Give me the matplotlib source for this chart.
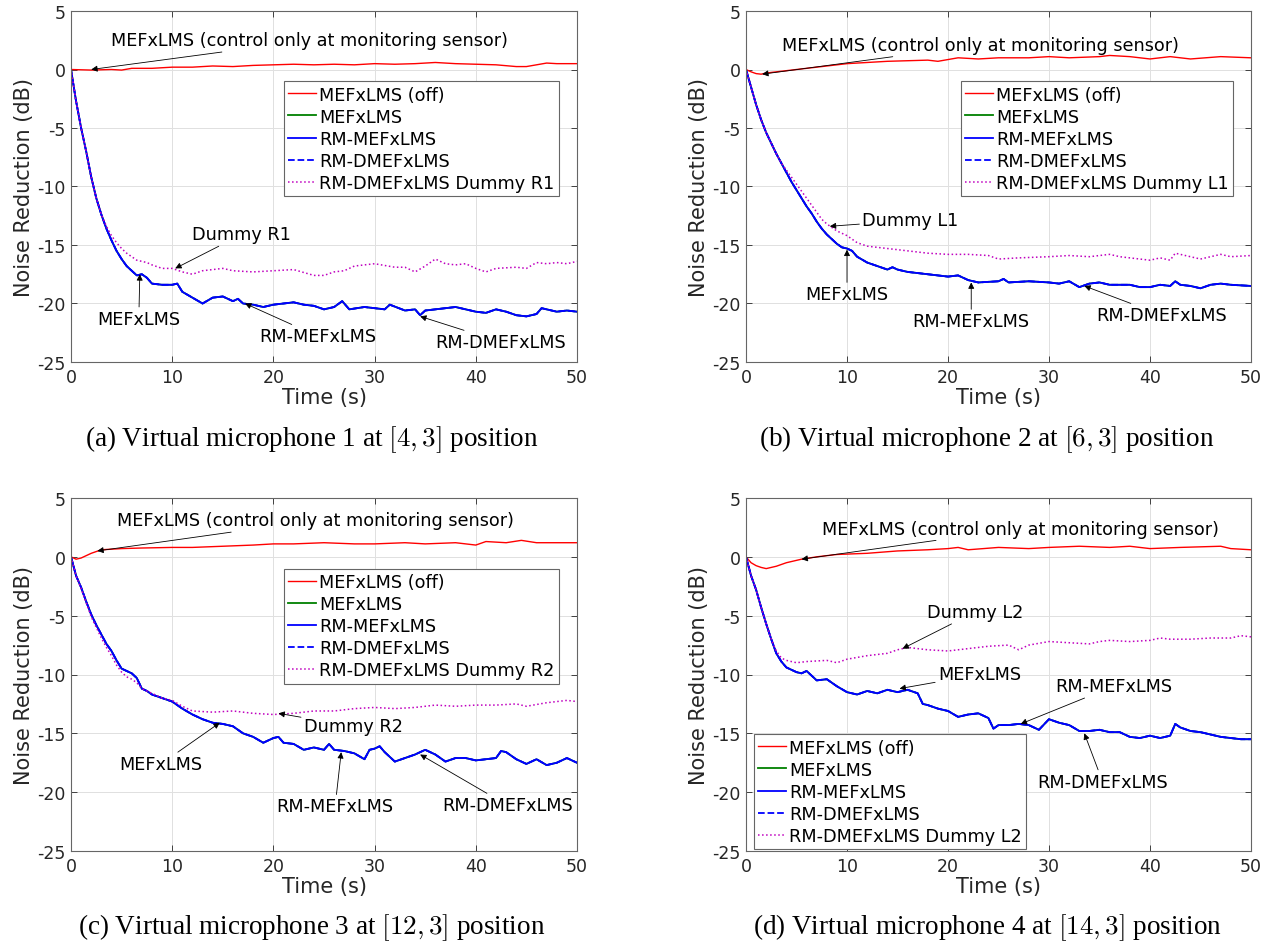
import matplotlib
matplotlib.use('Agg')
import matplotlib.pyplot as plt

plt.rcParams['font.family'] = 'DejaVu Sans'
plt.rcParams['axes.unicode_minus'] = False
plt.rcParams['mathtext.fontset'] = 'cm'

# ---- panel (a): virtual mic 1 ----
a_off_t = [0, 2, 4, 5, 6, 8, 10, 12, 14, 16, 18, 20, 22, 24, 26, 28, 30, 32, 34, 36, 38, 40, 42, 44, 45, 46, 47, 48, 50]
a_off_y = [0, -0.05, 0, -0.05, 0.1, 0.1, 0.2, 0.2, 0.3, 0.25, 0.35, 0.4, 0.45, 0.4, 0.45, 0.4, 0.5, 0.45, 0.5, 0.6,
           0.5, 0.45, 0.4, 0.25, 0.25, 0.4, 0.55, 0.5, 0.5]
a_rm_t = [0, 0.5, 1, 1.5, 2, 2.5, 3, 3.5, 4, 4.5, 5, 5.5, 6, 6.5, 7, 7.5, 8, 9, 10, 10.5,
          11, 12, 13, 14, 15, 16, 16.5, 17, 18, 19, 20, 22, 23, 24, 25, 26, 26.8, 27.5, 29, 30,
          31, 31.5, 33, 34, 34.5, 35, 37, 38, 40, 41, 42, 43, 44, 45, 46, 46.5, 48, 49, 50]
a_rm_y = [0, -2.7, -5, -7, -9.2, -11, -12.4, -13.6, -14.6, -15.5, -16.2, -16.8, -17.2, -17.6, -17.5, -17.8, -18.3, -18.4, -18.4, -18.3,
          -19, -19.5, -20, -19.5, -19.4, -19.8, -19.6, -20, -20.1, -20.3, -20.1, -19.9, -20.1, -20.2, -20.5, -20.3, -19.8, -20.5, -20.3, -20.4,
          -20.5, -20.1, -20.6, -20.5, -21, -20.6, -20.4, -20.3, -20.7, -20.8, -20.5, -20.7, -21, -21.1, -20.9, -20.4, -20.7, -20.6, -20.7]
a_dum_t = [0, 0.5, 1, 1.5, 2, 2.5, 3, 3.5, 4, 4.5, 5, 5.5, 6, 6.5, 7, 7.5, 8, 9, 10, 11,
           12, 13, 15, 16, 18, 20, 22, 24, 25, 26, 27, 28, 29, 30, 32, 33, 34, 35, 36, 37,
           38, 39, 40, 41, 42, 44, 45, 46, 47, 48, 49, 50]
a_dum_y = [0, -2.7, -5, -7, -9.2, -11, -12.4, -13.4, -14.2, -14.8, -15.3, -15.7, -16.0, -16.3, -16.4, -16.5, -16.7, -17.0, -17.0, -17.3,
           -17.5, -17.2, -17.0, -17.2, -17.3, -17.2, -17.1, -17.6, -17.6, -17.3, -17.2, -16.8, -16.7, -16.6, -16.9, -16.9, -17.3, -16.8, -16.2, -16.6,
           -16.7, -16.6, -17.0, -17.3, -17.0, -16.9, -17.0, -16.5, -16.6, -16.5, -16.6, -16.4]

# ---- panel (b): virtual mic 2 ----
b_off_t = [0, 0.5, 1, 1.5, 2, 3, 4, 5, 6, 8, 10, 12, 14, 16, 18, 19, 21, 23, 25, 28, 30, 32, 35, 36, 38, 40, 42, 44, 47, 50]
b_off_y = [0, -0.2, -0.35, -0.4, -0.3, -0.2, -0.1, 0, 0.1, 0.3, 0.5, 0.6, 0.7, 0.75, 0.8, 0.7, 1.0, 0.9, 1.0, 1.0,
           1.1, 1.0, 1.1, 1.2, 1.1, 0.9, 1.1, 0.9, 1.1, 1.0]
b_rm_t = [0, 0.5, 1, 1.5, 2, 2.5, 3, 3.5, 4, 4.5, 5, 5.5, 6, 6.5, 7, 7.5, 8, 8.5, 9, 9.5,
          10, 10.5, 11, 12, 13, 14, 14.5, 15, 16, 18, 20, 21, 22, 23, 25, 25.5, 26, 28, 30, 31,
          32, 33, 34, 35, 36, 38, 39, 40, 41, 42, 42.5, 43, 44, 45, 46, 47, 48, 50]
b_rm_y = [0, -1.5, -3, -4.3, -5.4, -6.3, -7.2, -8, -8.8, -9.6, -10.3, -11, -11.7, -12.3, -13.0, -13.6, -14.1, -14.5, -14.9, -15.2,
          -15.3, -15.5, -16, -16.5, -16.8, -17.1, -16.9, -17.1, -17.3, -17.5, -17.7, -17.6, -18, -18.2, -18.1, -17.9, -18.2, -18.1, -18.2, -18.3,
          -18.1, -18.6, -18.3, -18.2, -18.4, -18.4, -18.6, -18.6, -18.4, -18.5, -18.1, -18.4, -18.5, -18.7, -18.4, -18.3, -18.4, -18.5]
b_dum_t = [0, 0.5, 1, 1.5, 2, 2.5, 3, 3.5, 4, 4.5, 5, 5.5, 6, 6.5, 7, 7.5, 8, 8.5, 9, 9.5,
           10, 11, 12, 13, 14, 16, 18, 20, 22, 24, 25, 27, 30, 32, 34, 36, 37, 38, 40, 41,
           42, 42.5, 44, 45, 47, 48, 50]
b_dum_y = [0, -1.5, -3, -4.3, -5.4, -6.3, -7.2, -8, -8.6, -9.2, -9.8, -10.4, -11.0, -11.6, -12.2, -12.8, -13.2, -13.5, -13.8, -14.0,
           -14.2, -14.8, -15.1, -15.2, -15.3, -15.5, -15.7, -15.8, -15.8, -15.9, -16.2, -16.1, -16.0, -15.9, -16.0, -15.8, -16.0, -16.1, -16.3, -16.1,
           -16.3, -15.7, -16.0, -16.2, -15.8, -16.0, -15.9]

# ---- panel (c): virtual mic 3 ----
c_off_t = [0, 0.5, 1, 2, 3, 4, 5, 7, 10, 12, 15, 18, 20, 22, 25, 28, 30, 33, 35, 38, 40, 41, 43, 44.5, 46, 48, 50]
c_off_y = [0, -0.2, -0.1, 0.3, 0.6, 0.65, 0.7, 0.75, 0.8, 0.8, 0.9, 1.0, 1.1, 1.1, 1.2, 1.1, 1.1, 1.2, 1.1, 1.2,
           1.0, 1.3, 1.2, 1.4, 1.2, 1.2, 1.2]
c_rm_t = [0, 0.5, 1, 1.5, 2, 2.5, 3, 3.5, 4, 4.5, 5, 5.5, 6, 6.5, 7, 7.5, 8, 9, 10, 11,
          12, 13, 14, 15, 16, 17, 18, 19, 20, 20.5, 21, 22, 23, 24, 25, 25.5, 26, 27, 28, 29,
          29.5, 30, 30.5, 31, 32, 33, 34, 35, 36, 37, 38, 39, 40, 41, 42, 42.5, 43, 44, 45, 46,
          47, 48, 49, 50]
c_rm_y = [0, -1.6, -2.6, -3.8, -4.9, -5.8, -6.6, -7.4, -8.0, -8.8, -9.5, -9.7, -9.9, -10.3, -11.2, -11.4, -11.7, -12.0, -12.3, -12.9,
          -13.4, -13.8, -14.1, -14.2, -14.4, -15.0, -15.3, -15.8, -15.4, -15.3, -15.8, -15.9, -16.4, -16.2, -16.4, -15.9, -16.4, -16.5, -16.7, -17.2,
          -16.4, -16.3, -16.1, -16.6, -17.4, -17.1, -16.8, -16.4, -16.8, -17.4, -17.1, -17.1, -17.3, -17.2, -17.1, -16.5, -16.6, -17.2, -17.6, -17.2,
          -17.7, -17.5, -17.1, -17.5]
c_dum_t = [0, 0.5, 1, 1.5, 2, 2.5, 3, 3.5, 4, 4.5, 5, 5.5, 6, 6.5, 7, 7.5, 8, 9, 10, 11,
           12, 14, 16, 18, 20, 22, 24, 26, 28, 30, 32, 34, 36, 38, 40, 42, 44, 45, 47, 49, 50]
c_dum_y = [0, -1.6, -2.7, -3.9, -5.1, -6.0, -6.9, -7.7, -8.4, -9.2, -9.8, -10.2, -10.4, -10.7, -11.2, -11.4, -11.6, -12.0, -12.2, -12.7,
           -13.1, -13.2, -13.1, -13.3, -13.4, -13.3, -13.1, -13.1, -12.9, -12.8, -12.9, -12.8, -12.6, -12.7, -12.6, -12.6, -12.5, -12.7, -12.4, -12.2,
           -12.3]

# ---- panel (d): virtual mic 4 ----
d_off_t = [0, 0.5, 1, 1.5, 2, 3, 4, 5.5, 7, 9, 12, 15, 18, 20, 21, 22, 25, 28, 30, 33, 36, 38, 40, 43, 47, 48, 50]
d_off_y = [0, -0.5, -0.75, -0.9, -1.0, -0.8, -0.5, -0.2, 0, 0.2, 0.3, 0.5, 0.6, 0.7, 0.8, 0.6, 0.8, 0.7, 0.8, 0.9,
           0.8, 0.9, 0.7, 0.8, 0.9, 0.7, 0.6]
d_rm_t = [0, 0.5, 1, 1.5, 2, 2.5, 3, 3.5, 4, 5, 5.5, 6, 7, 8, 9, 10, 11, 12, 13, 14,
          15, 16, 17, 17.5, 18, 19, 20, 21, 22, 23, 24, 24.5, 25, 26, 27, 28, 29, 30, 31, 32,
          33, 34, 35, 36, 37, 38, 39, 40, 41, 42, 42.5, 43, 44, 45, 46, 47, 48, 49, 50]
d_rm_y = [0, -1.6, -2.8, -4.3, -5.7, -7.0, -8.2, -8.9, -9.4, -9.8, -9.9, -9.7, -10.5, -10.4, -11.0, -11.5, -11.7, -11.4, -11.6, -11.3,
          -11.5, -11.3, -11.6, -12.5, -12.6, -12.9, -13.1, -13.6, -13.4, -13.3, -13.7, -14.6, -14.3, -14.3, -14.2, -14.3, -14.7, -13.8, -14.1, -14.3,
          -14.8, -14.8, -14.7, -14.9, -14.9, -15.3, -15.4, -15.2, -15.4, -15.2, -14.2, -14.5, -14.8, -14.9, -15.1, -15.3, -15.4, -15.5, -15.5]
d_dum_t = [0, 0.5, 1, 1.5, 2, 2.5, 3, 3.5, 4, 5, 6, 8, 9, 10, 12, 14, 15, 16, 18, 20,
           22, 24, 26, 27, 28, 30, 32, 34, 35, 36, 38, 40, 41, 42, 44, 46, 48, 49, 50]
d_dum_y = [0, -1.6, -2.8, -4.3, -5.7, -7.0, -8.0, -8.6, -8.8, -9.0, -8.9, -8.8, -9.0, -8.7, -8.4, -8.2, -7.9, -7.7, -7.9, -8.0,
           -7.8, -7.6, -7.5, -7.9, -7.5, -7.2, -7.3, -7.4, -7.2, -7.1, -7.2, -7.1, -6.9, -7.0, -7.0, -6.9, -6.9, -6.7, -6.8]

dummy_names = ['R1', 'L1', 'R2', 'L2']
captions = ['(a) Virtual microphone 1 at $[4,3]$ position',
            '(b) Virtual microphone 2 at $[6,3]$ position',
            '(c) Virtual microphone 3 at $[12,3]$ position',
            '(d) Virtual microphone 4 at $[14,3]$ position']

W, H = 1263, 945


def fig_rect(x0, x1, ytop, ybot):
    return [x0 / W, 1 - ybot / H, (x1 - x0) / W, (ybot - ytop) / H]


def arrow(ax, txt, xy, xytext, ha='center', va='center'):
    ax.annotate(txt, xy=xy, xytext=xytext, ha=ha, va=va, fontsize=12.7, color='k',
                arrowprops=dict(arrowstyle='-|>', color='k', lw=0.6, mutation_scale=9,
                                shrinkA=0, shrinkB=0))


def panel(ax, off, rm, dum, name):
    ax.plot(off[0], off[1], color='r', lw=1.0, label='MEFxLMS (off)')
    # MEFxLMS and RM-MEFxLMS give the same curve, so green sits under blue
    ax.plot(rm[0], rm[1], color=(0, 0.5, 0), lw=1.3, label='MEFxLMS')
    ax.plot(rm[0], rm[1], color='b', lw=1.3, label='RM-MEFxLMS')
    ax.plot(rm[0], rm[1], color='b', lw=1.3, ls='--', label='RM-DMEFxLMS')
    ax.plot(dum[0], dum[1], color='m', lw=1.1, ls=':', label='RM-DMEFxLMS Dummy ' + name)
    ax.set_xlim(0, 50)
    ax.set_ylim(-25, 5)
    ax.set_xticks(range(0, 51, 10))
    ax.set_yticks(range(-25, 6, 5))
    ax.grid(True, color='0.88', lw=0.7)
    ax.tick_params(direction='in', top=True, right=True, length=4, width=0.6,
                   labelsize=12.5, colors='0.15', pad=4)
    for s in ax.spines.values():
        s.set_color('0.4')
        s.set_linewidth(0.8)
    ax.set_xlabel('Time (s)', fontsize=15, color='0.15', labelpad=1)
    ax.set_ylabel('Noise Reduction (dB)', fontsize=15, color='0.15', labelpad=2)


def legend(ax, loc, anchor):
    lg = ax.legend(loc=loc, bbox_to_anchor=anchor, fontsize=12.7, handlelength=1.6,
                   handletextpad=0.15, labelspacing=0.23, borderpad=0.25, borderaxespad=0,
                   fancybox=False, framealpha=1)
    lg.get_frame().set_edgecolor('0.4')
    lg.get_frame().set_linewidth(0.8)


fig = plt.figure(figsize=(W / 100, H / 100), dpi=100)
ax_a = fig.add_axes(fig_rect(71, 577, 12, 363))
ax_b = fig.add_axes(fig_rect(746, 1251, 12, 363))
ax_c = fig.add_axes(fig_rect(71, 577, 499, 852))
ax_d = fig.add_axes(fig_rect(746, 1251, 499, 852))

panel(ax_a, (a_off_t, a_off_y), (a_rm_t, a_rm_y), (a_dum_t, a_dum_y), dummy_names[0])
panel(ax_b, (b_off_t, b_off_y), (b_rm_t, b_rm_y), (b_dum_t, b_dum_y), dummy_names[1])
panel(ax_c, (c_off_t, c_off_y), (c_rm_t, c_rm_y), (c_dum_t, c_dum_y), dummy_names[2])
panel(ax_d, (d_off_t, d_off_y), (d_rm_t, d_rm_y), (d_dum_t, d_dum_y), dummy_names[3])

legend(ax_a, 'upper right', (0.964, 0.80))
legend(ax_b, 'upper right', (0.964, 0.80))
legend(ax_c, 'upper right', (0.964, 0.80))
legend(ax_d, 'lower left', (0.015, 0.005))

ctl = 'MEFxLMS (control only at monitoring sensor)'
# (a)
arrow(ax_a, ctl, (2.0, 0.0), (4.0, 2.5), ha='left')
arrow(ax_a, 'Dummy R1', (10.3, -17.0), (12.0, -14.1), ha='left')
arrow(ax_a, 'MEFxLMS', (6.8, -17.5), (6.7, -21.3))
arrow(ax_a, 'RM-MEFxLMS', (17.2, -20.0), (24.4, -22.8))
arrow(ax_a, 'RM-DMEFxLMS', (34.5, -21.1), (42.5, -23.3))
# (b)
arrow(ax_b, ctl, (1.6, -0.4), (3.6, 2.1), ha='left')
arrow(ax_b, 'Dummy L1', (8.3, -13.4), (11.5, -12.9), ha='left')
arrow(ax_b, 'MEFxLMS', (10.0, -15.4), (10.0, -19.2))
arrow(ax_b, 'RM-MEFxLMS', (22.3, -18.2), (22.3, -21.5))
arrow(ax_b, 'RM-DMEFxLMS', (33.5, -18.5), (41.2, -21.0))
# (c)
arrow(ax_c, ctl, (2.6, 0.5), (4.5, 3.1), ha='left')
arrow(ax_c, 'Dummy R2', (20.5, -13.3), (23.0, -14.4), ha='left')
arrow(ax_c, 'MEFxLMS', (14.7, -14.1), (8.9, -17.6))
arrow(ax_c, 'RM-MEFxLMS', (26.7, -16.6), (26.1, -21.2))
arrow(ax_c, 'RM-DMEFxLMS', (34.5, -16.8), (43.1, -21.1))
# (d)
arrow(ax_d, ctl, (5.5, -0.2), (7.5, 2.4), ha='left')
arrow(ax_d, 'Dummy L2', (15.5, -7.8), (17.9, -4.7), ha='left')
arrow(ax_d, 'MEFxLMS', (15.2, -11.2), (19.0, -10.0), ha='left')
arrow(ax_d, 'RM-MEFxLMS', (27.2, -14.2), (30.6, -11.0), ha='left')
arrow(ax_d, 'RM-DMEFxLMS', (33.5, -15.0), (35.3, -19.1))

cap_pos = [(312, 440), (987, 440), (312, 928), (987, 928)]
for (cx, cy), cap in zip(cap_pos, captions):
    fig.text(cx / W, 1 - cy / H, cap, ha='center', va='center', fontsize=19.5,
             family='Liberation Serif')

fig.savefig('out.png', dpi=100)
